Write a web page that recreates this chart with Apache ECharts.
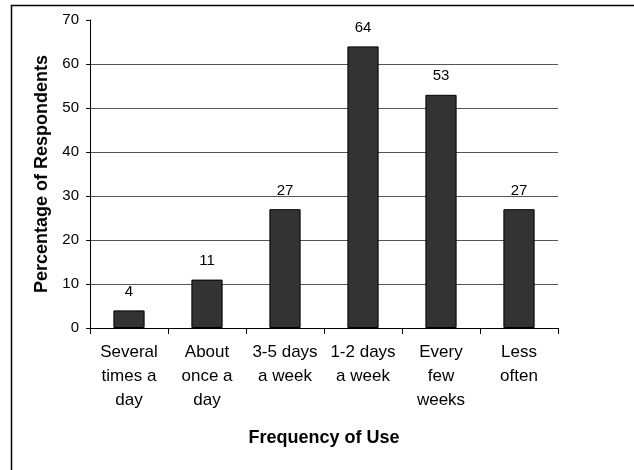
<!DOCTYPE html>
<html>
<head>
<meta charset="utf-8">
<script src="https://cdn.jsdelivr.net/npm/echarts@6/dist/echarts.min.js"></script>
<style>
html,body{margin:0;padding:0;background:#fff;}
#c{width:634px;height:470px;}
</style>
</head>
<body>
<div id="c"></div>
<script>
const categories = ["Several\ntimes a\nday", "About\nonce a\nday", "3-5 days\na week", "1-2 days\na week", "Every\nfew\nweeks", "Less\noften"];
const values = [4, 11, 27, 64, 53, 27];
const yTicks = { min: 0, max: 70, interval: 10 };
const xTitle = "Frequency of Use";
const yTitle = "Percentage of Respondents";

const chart = echarts.init(document.getElementById('c'));
const font = "'Liberation Sans', Arial, sans-serif";
chart.setOption({
  animation: false,
  backgroundColor: '#fff',
  graphic: [{
    type: 'rect',
    shape: { x: 11.5, y: 5.5, width: 800, height: 600 },
    style: { fill: 'none', stroke: '#000', lineWidth: 1.5 },
    silent: true
  }],
  grid: { left: 90, right: 76, top: 20, bottom: 142, containLabel: false },
  xAxis: {
    type: 'category',
    data: categories,
    name: xTitle,
    nameLocation: 'middle',
    nameGap: 101,
    nameTextStyle: { fontFamily: font, fontSize: 18, fontWeight: 'bold', color: '#000' },
    axisLine: { lineStyle: { color: '#000', width: 1 } },
    axisTick: { show: true, alignWithLabel: false, length: 6, lineStyle: { color: '#000' } },
    axisLabel: { interval: 0, margin: 12, fontFamily: font, fontSize: 17, color: '#000', lineHeight: 24, align: 'center' },
    splitLine: { show: false }
  },
  yAxis: {
    type: 'value',
    min: yTicks.min, max: yTicks.max, interval: yTicks.interval,
    name: yTitle,
    nameLocation: 'middle',
    nameGap: 37,
    nameRotate: 90,
    nameTextStyle: { fontFamily: font, fontSize: 18, fontWeight: 'bold', color: '#000' },
    axisLine: { show: true, lineStyle: { color: '#000', width: 1 } },
    axisTick: { show: true, length: 4, lineStyle: { color: '#000' } },
    axisLabel: { margin: 11, fontFamily: font, fontSize: 15, color: '#000' },
    splitLine: { show: true, showMinLine: false, showMaxLine: false, lineStyle: { color: '#555', width: 1 } }
  },
  series: [{
    type: 'bar',
    data: values,
    barWidth: '40%',
    itemStyle: { color: '#333333', borderColor: '#000', borderWidth: 1 },
    label: { show: true, position: 'top', distance: 11, fontFamily: font, fontSize: 15, color: '#000' }
  }]
});
</script>
</body>
</html>
